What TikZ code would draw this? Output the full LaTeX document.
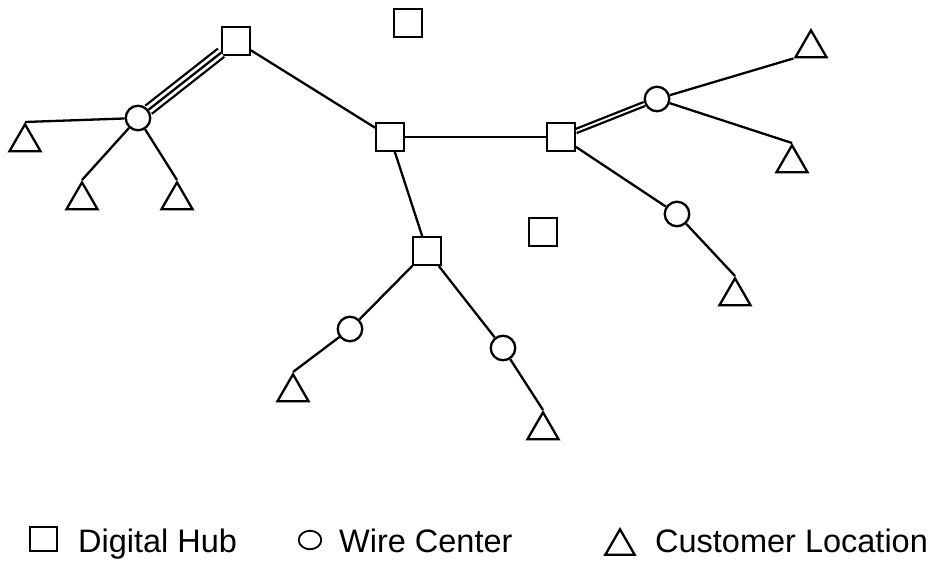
\documentclass[tikz,border=0pt]{standalone}
\usepackage{fontspec}
\setmainfont{Liberation Sans}
\usetikzlibrary{shapes.geometric,positioning}

\begin{document}
\begin{tikzpicture}[
  x=1pt, y=-1pt,
  line width=2.3pt,
  hub/.style={draw, rectangle, minimum size=27.5pt, inner sep=0pt},
  wire/.style={draw, circle, minimum size=24.5pt, inner sep=0pt},
  cust/.style={draw, regular polygon, regular polygon sides=3,
               minimum size=36pt, inner sep=0pt, anchor=corner 1},
  link/.style={draw, line width=2.3pt},
  dlink/.style={link, double, double distance=1.8pt},
  tlink/.style={link, double, double distance=8pt},
  keytext/.style={font=\fontsize{32.5}{36}\selectfont, inner sep=0pt, anchor=base west}
]
  \useasboundingbox (0,0) rectangle (943,565);

  % digital hubs
  \node[hub] (h1) at (236,41) {};
  \node[hub] (h2) at (390,137) {};
  \node[hub] (h3) at (561,137) {};
  \node[hub] (h4) at (427,251) {};
  \node[hub] (h5) at (408,23) {};
  \node[hub] (h6) at (543,232) {};

  % wire centers
  \node[wire] (w1) at (138,118) {};
  \node[wire] (w2) at (657,99) {};
  \node[wire] (w3) at (677,214) {};
  \node[wire] (w4) at (350,329) {};
  \node[wire] (w5) at (503,348) {};

  % customer locations (placed by apex)
  \node[cust] (c1) at (25,122) {};
  \node[cust] (c2) at (82,180) {};
  \node[cust] (c3) at (177,180) {};
  \node[cust] (c4) at (811,28) {};
  \node[cust] (c5) at (792,143) {};
  \node[cust] (c6) at (735,276) {};
  \node[cust] (c7) at (293,372) {};
  \node[cust] (c8) at (543,410) {};

  % links
  \draw[tlink] (h1) -- (w1);
  \draw[link] (h1) -- (w1);
  \draw[link] (h1) -- (h2);
  \draw[link] (h2) -- (h3);
  \draw[link] (h2) -- (h4);
  \draw[dlink] (h3) -- (w2);
  \draw[link] (h3) -- (w3);
  \draw[link] (h4) -- (w4);
  \draw[link] (h4) -- (w5);

  \draw[link] (w1) -- (c1.corner 1);
  \draw[link] (w1) -- (c2.corner 1);
  \draw[link] (w1) -- (c3.corner 1);
  \draw[link] (w2) -- (c4.corner 2);
  \draw[link] (w2) -- (c5.corner 1);
  \draw[link] (w3) -- (c6.corner 1);
  \draw[link] (w4) -- (c7.corner 1);
  \draw[link] (w5) -- (c8.corner 1);

  % legend
  \node[hub, minimum width=27pt, minimum height=24pt] (khub) at (43.5,539) {};
  \node[draw, ellipse, minimum width=22.5pt, minimum height=18.5pt, inner sep=0pt, line width=1.8pt] (kwire) at (310,540) {};
  \node[cust, minimum size=34pt] (kcust) at (620,527) {};
  \node[keytext] (thub) at (77,552) {Digital Hub};
  \node[keytext] (twire) at (338,552) {Wire Center};
  \node[keytext] (tcust) at (654,552) {Customer Location};
\end{tikzpicture}
\end{document}
